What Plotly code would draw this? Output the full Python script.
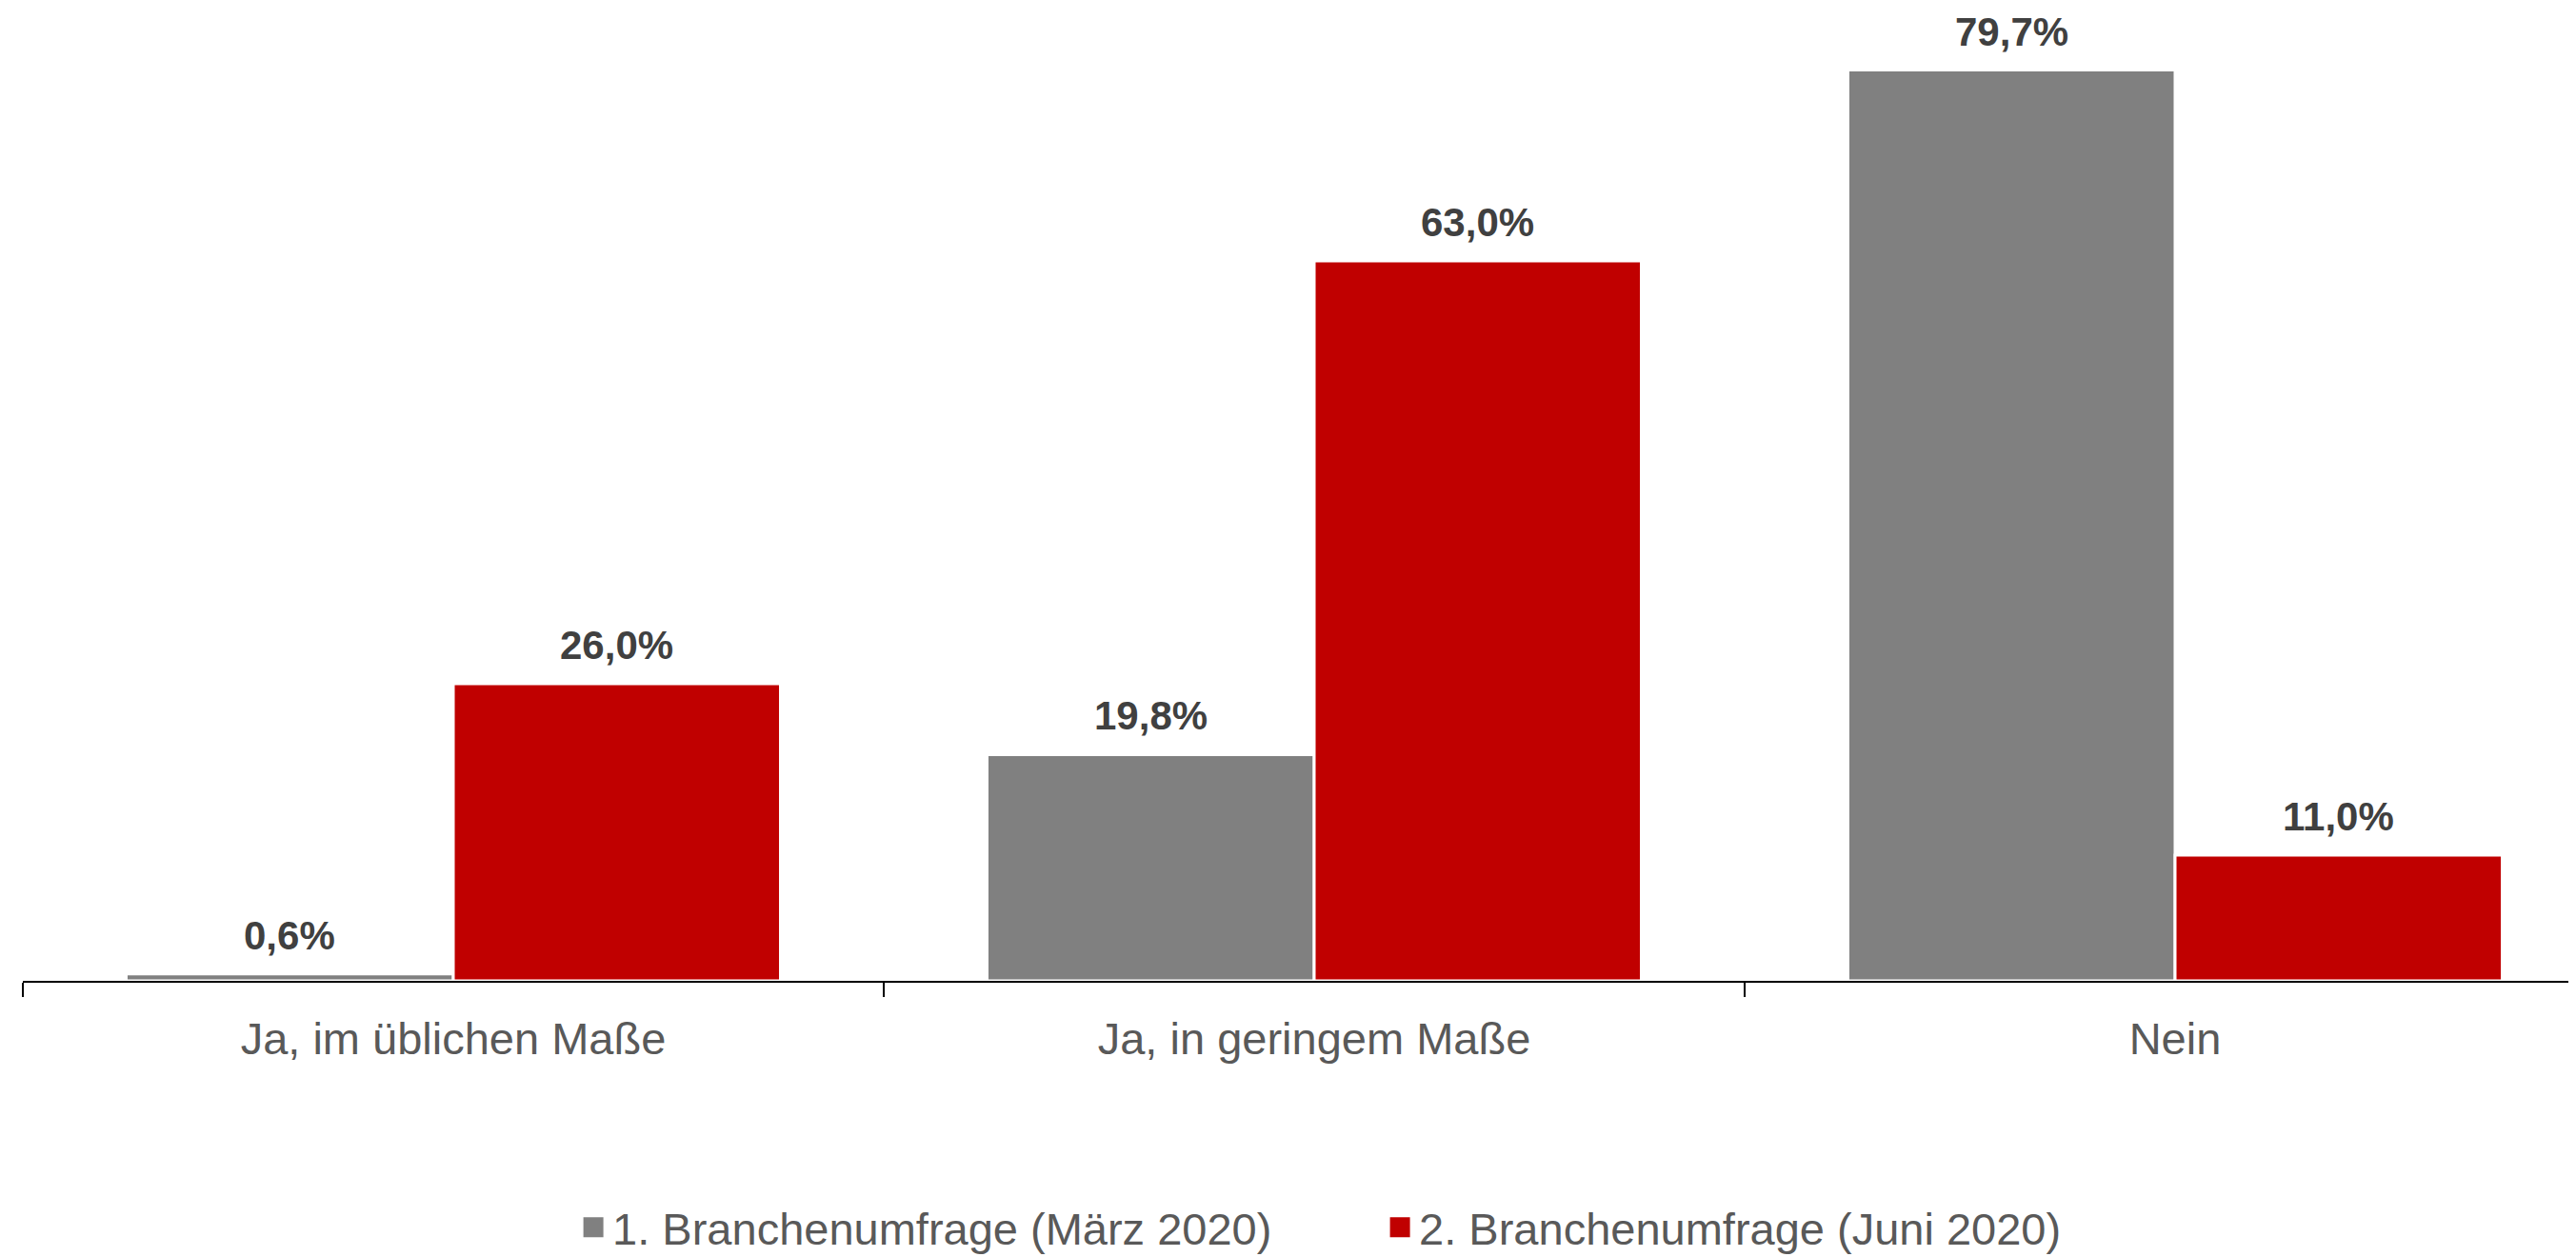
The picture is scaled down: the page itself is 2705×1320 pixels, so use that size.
import plotly.graph_objects as go

categories = ["Ja, im üblichen Maße", "Ja, in geringem Maße", "Nein"]
series_names = ["1. Branchenumfrage (März 2020)", "2. Branchenumfrage (Juni 2020)"]
values_maerz = [0.6, 19.8, 79.7]
values_juni = [26.0, 63.0, 11.0]
colors = ["#808080", "#C00000"]

BARGAP = 0.24
FONT = "Liberation Sans, Arial, sans-serif"

fig = go.Figure()
for name, vals, col in zip(series_names, [values_maerz, values_juni], colors):
    fig.add_trace(go.Bar(
        x=categories, y=vals, name=name,
        marker=dict(color=col, line=dict(color="white", width=3)),
        hoverinfo="skip", showlegend=False,
    ))

# legend entries (square markers)
for name, col in zip(series_names, colors):
    fig.add_trace(go.Scatter(
        x=[None], y=[None], name=name, mode="markers",
        marker=dict(symbol="square", size=16, color=col, line=dict(color=col, width=5)),
        showlegend=True, hoverinfo="skip",
    ))

# data labels above bars
half = (1 - BARGAP) / 4
for k, vals in enumerate([values_maerz, values_juni]):
    off = -half if k == 0 else half
    for i, v in enumerate(vals):
        fig.add_annotation(
            x=i + off, y=v, xref="x", yref="y",
            text=f"{v:.1f}%".replace(".", ","),
            showarrow=False, yanchor="bottom", yshift=15,
            font=dict(family=FONT, size=42, color="#404040", weight="bold"),
        )

# the page body adds an 8px offset; size the figure to fill the window
W, H = 2697, 1312
fig.update_layout(
    width=W, height=H,
    margin=dict(l=16, r=0, t=2, b=290, autoexpand=False),
    paper_bgcolor="white", plot_bgcolor="white",
    barmode="group", bargap=BARGAP, bargroupgap=0,
    font=dict(family=FONT, size=47, color="#595959"),
    xaxis=dict(
        type="category",
        range=[-0.5, -0.5 + (W - 16) / 904],
        showline=True, linecolor="black", linewidth=2,
        ticks="outside", tickson="boundaries", ticklen=15, tickcolor="black", tickwidth=2,
        tickfont=dict(family=FONT, size=47, color="#595959"),
        ticklabelstandoff=19,
        showgrid=False, zeroline=False,
    ),
    yaxis=dict(range=[0, 85], visible=False, showgrid=False, zeroline=False),
    legend=dict(
        orientation="h", x=0.216, xanchor="left", y=-0.254, yanchor="middle",
        font=dict(family=FONT, size=47, color="#595959"),
        entrywidth=802, entrywidthmode="pixels",
        bgcolor="rgba(0,0,0,0)",
    ),
    showlegend=True,
)

fig.write_html("out.html")
